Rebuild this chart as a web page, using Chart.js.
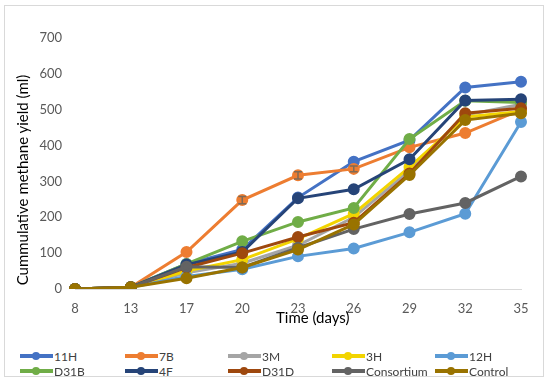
<!DOCTYPE html>
<html>
<head>
<meta charset="utf-8">
<script src="https://cdn.jsdelivr.net/npm/chart.js@4"></script>
<style>
    body { margin: 0; background: #fff; font-family: Lato, "Open Sans", sans-serif; }
    #wrap { position: relative; width: 550px; height: 383px; }
    #frame { position: absolute; left: 4px; top: 5px; width: 540px; height: 372px; border: 1px solid #d9d9d9; box-sizing: border-box; }
    #chartBox { position: absolute; left: 0; top: 0; width: 550px; height: 325px; }
    .axisTitle { position: absolute; font-size: 15px; color: #000; white-space: nowrap; }
    #yTitle { left: 22px; top: 180px; transform: translate(-50%, -50%) rotate(-90deg); }
    #xTitle { left: 276px; top: 308px; }
    #legend { position: absolute; left: 0; top: 349px; width: 550px; }
    .item { position: absolute; display: flex; align-items: center; font-size: 12px; color: #404040; height: 14px; }
    .swatch { position: relative; width: 33px; height: 4px; margin-right: 1px; }
    .swatch i { position: absolute; left: 12px; top: -2px; width: 8px; height: 8px; border-radius: 50%; }
</style>
</head>
<body>
<div id="wrap">
    <div id="frame"></div>
    <div id="chartBox"><canvas id="methaneChart"></canvas></div>
    <div id="yTitle" class="axisTitle">Cummulative methane yield (ml)</div>
    <div id="xTitle" class="axisTitle">Time (days)</div>
    <div id="legend"></div>
</div>
<script>
// sampling days (category axis)
const days = ['8', '13', '17', '20', '23', '26', '29', '32', '35'];

// cumulative methane yield (ml) per isolate
const s11H        = [0, 5, 70, 110, 255, 355, 415, 562, 578];
const s7B         = [0, 5, 103, 248, 317, 335, 395, 435, 500];
const s3M         = [0, 5, 45, 72, 122, 200, 330, 485, 515];
const s3H         = [0, 5, 50, 82, 140, 210, 340, 480, 495];
const s12H        = [0, 5, 35, 55, 91, 113, 158, 210, 466];
const sD31B       = [0, 5, 70, 133, 187, 226, 418, 525, 520];
const s4F         = [0, 5, 68, 103, 253, 278, 362, 526, 529];
const sD31D       = [0, 5, 60, 100, 145, 185, 322, 490, 504];
const sConsortium = [0, 5, 62, 60, 115, 167, 209, 240, 314];
const sControl    = [0, 5, 30, 60, 110, 180, 318, 471, 490];

// standard error on 7B (only visible ones)
const s7BErr = [0, 0, 0, 10, 10, 8, 0, 0, 0];

const seriesNames = ['11H', '7B', '3M', '3H', '12H', 'D31B', '4F', 'D31D', 'Consortium', 'Control'];
const seriesData = [s11H, s7B, s3M, s3H, s12H, sD31B, s4F, sD31D, sConsortium, sControl];
const seriesColors = ['#4472C4', '#ED7D31', '#A5A5A5', '#F2D400', '#5B9BD5',
                      '#70AD47', '#264478', '#9E480E', '#636363', '#997300'];

const yTicks = [0, 100, 200, 300, 400, 500, 600, 700];

const datasets = seriesNames.map(function (name, i) {
    return {
        label: name,
        data: seriesData[i],
        borderColor: seriesColors[i],
        backgroundColor: seriesColors[i],
        borderWidth: 3,
        pointRadius: 4.5,
        pointHoverRadius: 4.5,
        fill: false,
        tension: 0,
        order: seriesNames.length - i   // later series on top, like the original
    };
});

// small error bars for 7B
const errorBars = {
    id: 'errorBars',
    afterDatasetsDraw: function (chart) {
        const meta = chart.getDatasetMeta(1);
        const y = chart.scales.y;
        const ctx = chart.ctx;
        ctx.save();
        ctx.strokeStyle = '#7f6a55';
        ctx.lineWidth = 1.5;
        meta.data.forEach(function (pt, i) {
            const e = s7BErr[i];
            if (!e) return;
            const top = y.getPixelForValue(s7B[i] + e);
            const bot = y.getPixelForValue(s7B[i] - e);
            ctx.beginPath();
            ctx.moveTo(pt.x, top); ctx.lineTo(pt.x, bot);
            ctx.moveTo(pt.x - 4, top); ctx.lineTo(pt.x + 4, top);
            ctx.moveTo(pt.x - 4, bot); ctx.lineTo(pt.x + 4, bot);
            ctx.stroke();
        });
        ctx.restore();
    }
};

// html legend, two rows of five
const legendEl = document.getElementById('legend');
const colX = [20, 125, 228, 332, 435];
seriesNames.forEach(function (name, i) {
    const item = document.createElement('div');
    item.className = 'item';
    item.style.left = colX[i % 5] + 'px';
    item.style.top = (i < 5 ? 0 : 15) + 'px';
    item.innerHTML = '<span class="swatch" style="background:' + seriesColors[i] +
        '"><i style="background:' + seriesColors[i] + '"></i></span>' + name;
    legendEl.appendChild(item);
});

const config = {
    type: 'line',
    data: { labels: days, datasets: datasets },
    options: {
        responsive: false,
        animation: false,
        layout: { padding: { left: 0, right: 29, top: 38, bottom: 0 } },
        plugins: {
            legend: { display: false },
            tooltip: { enabled: false }
        },
        scales: {
            x: {
                offset: false,
                grid: { display: false, drawTicks: false },
                border: { display: true, color: '#d9d9d9', width: 1 },
                ticks: {
                    color: '#595959',
                    font: { family: 'Lato', size: 13 },
                    padding: 12,
                    maxRotation: 0
                },
                afterFit: function (scale) { scale.height = 36; }
            },
            y: {
                min: 0,
                max: 700,
                afterBuildTicks: function (scale) {
                    scale.ticks = yTicks.map(function (v) { return { value: v }; });
                },
                grid: { display: false, drawTicks: false },
                border: { display: false },
                ticks: {
                    color: '#595959',
                    font: { family: 'Lato', size: 13 },
                    padding: 13
                },
                afterFit: function (scale) { scale.width = 75; }
            }
        }
    },
    plugins: [errorBars]
};

const canvas = document.getElementById('methaneChart');
canvas.width = 550;
canvas.height = 325;
new Chart(canvas, config);
</script>
</body>
</html>
